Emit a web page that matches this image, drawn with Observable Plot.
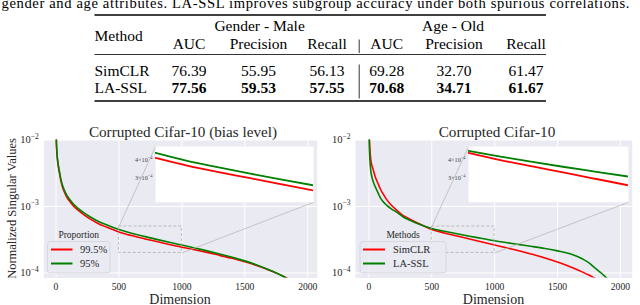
<!DOCTYPE html>
<html><head><meta charset="utf-8">
<script src="https://cdn.jsdelivr.net/npm/d3@7"></script>
<script src="https://cdn.jsdelivr.net/npm/@observablehq/plot@0.6"></script>
<style>
html,body{margin:0;padding:0;background:#fff;}
#root{position:relative;width:640px;height:305px;overflow:hidden;}
#root > svg{position:absolute;}
</style></head><body><div id="root"></div>
<script>
// ---------------- data ----------------
const captionText = "gender and age attributes. LA-SSL improves subgroup accuracy under both spurious correlations.";
const tableMethods = ["SimCLR", "LA-SSL"];
const groupHeaders = ["Gender - Male", "Age - Old"];
const metricHeaders = ["AUC", "Precision", "Recall", "AUC", "Precision", "Recall"];
const genderAUC = ["76.39", "77.56"];
const genderPrecision = ["55.95", "59.53"];
const genderRecall = ["56.13", "57.55"];
const ageAUC = ["69.28", "70.68"];
const agePrecision = ["32.70", "34.71"];
const ageRecall = ["61.47", "61.67"];

const dims = [0, 3, 6, 10, 15, 22, 30, 40, 50, 60, 75, 90, 110, 140, 175, 220, 270, 330, 400, 500, 600, 700, 800, 900, 1000, 1100, 1200, 1300, 1400, 1500, 1600, 1700, 1750, 1800, 1850, 1900, 1950, 2000];
// left panel: bias level
const biasNames = ["99.5%", "95%"];
const bias995 = [2.2e-2, 9.4e-3, 6.9e-3, 5.4e-3, 4.45e-3, 3.65e-3, 3.0e-3, 2.38e-3, 2.0e-3, 1.77e-3, 1.52e-3, 1.34e-3, 1.19e-3, 1.01e-3, 8.8e-4, 7.55e-4, 6.5e-4, 5.6e-4, 4.9e-4, 4.14e-4, 3.65e-4, 3.28e-4, 2.97e-4, 2.68e-4, 2.43e-4, 2.24e-4, 2.04e-4, 1.84e-4, 1.66e-4, 1.47e-4, 1.28e-4, 1.09e-4, 9.95e-5, 9.0e-5, 8.0e-5, 7.0e-5, 6.2e-5, 5.5e-5];
const bias95 = [2.2e-2, 9.6e-3, 7.1e-3, 5.6e-3, 4.6e-3, 3.8e-3, 3.15e-3, 2.5e-3, 2.12e-3, 1.88e-3, 1.62e-3, 1.43e-3, 1.27e-3, 1.08e-3, 9.4e-4, 8.1e-4, 7.0e-4, 6.05e-4, 5.3e-4, 4.5e-4, 3.95e-4, 3.55e-4, 3.2e-4, 2.9e-4, 2.64e-4, 2.38e-4, 2.15e-4, 1.93e-4, 1.72e-4, 1.52e-4, 1.31e-4, 1.1e-4, 1.0e-4, 9.0e-5, 8.0e-5, 7.0e-5, 6.2e-5, 5.5e-5];
// right panel: methods
const methodNames = ["SimCLR", "LA-SSL"];
const simclr = [2.5e-2, 1.2e-2, 8.5e-3, 6.3e-3, 5.0e-3, 4.2e-3, 3.8e-3, 3.25e-3, 2.8e-3, 2.5e-3, 2.15e-3, 1.85e-3, 1.57e-3, 1.28e-3, 1.06e-3, 8.8e-4, 7.35e-4, 6.4e-4, 5.5e-4, 4.51e-4, 4.0e-4, 3.6e-4, 3.25e-4, 2.93e-4, 2.64e-4, 2.38e-4, 2.14e-4, 1.91e-4, 1.68e-4, 1.46e-4, 1.24e-4, 1.03e-4, 9.3e-5, 8.3e-5, 7.4e-5, 6.5e-5, 5.7e-5, 5.0e-5];
const lassl = [1.6e-2, 8.0e-3, 5.8e-3, 4.3e-3, 3.4e-3, 2.85e-3, 2.5e-3, 2.2e-3, 1.98e-3, 1.8e-3, 1.56e-3, 1.36e-3, 1.2e-3, 1.05e-3, 9.3e-4, 8.2e-4, 7.0e-4, 6.15e-4, 5.4e-4, 4.66e-4, 4.24e-4, 3.88e-4, 3.57e-4, 3.3e-4, 3.05e-4, 2.85e-4, 2.67e-4, 2.5e-4, 2.33e-4, 2.15e-4, 1.95e-4, 1.62e-4, 1.42e-4, 1.18e-4, 9.9e-5, 8.1e-5, 6.8e-5, 5.3e-5];

const xTicks = [0, 500, 1000, 1500, 2000];
const yTicks = [1e-4, 1e-3, 1e-2];
const yDomain = [8.4e-5, 1e-2];
const zoomX = [500, 1000];
const zoomY = [2e-4, 5e-4];
const insetTicks = [3e-4, 4e-4];
const lineColors = ["#ff0000", "#008000"];

// ---------------- layout / style ----------------
const FONT = '"Liberation Serif","Times New Roman",Times,serif';
const BG = "#EAEAF2";
const TXT = "#262626";
const root = document.getElementById("root");
const insetFrac = {x0: 0.409, x1: 0.987, y0: 0.549, y1: 0.953};

const fmtX = d => String(d);
const fmtPow = d => "10^\u2212" + (-Math.round(Math.log10(d)));
const fmtInset = d => Math.round(d / 1e-4) + "\u00d710^\u22124";

function supify(svg) {
  svg.querySelectorAll("text").forEach(t => {
    const s = t.textContent;
    if (!s.includes("^")) return;
    const [base, exp] = s.split("^");
    while (t.firstChild) t.removeChild(t.firstChild);
    t.appendChild(document.createTextNode(base));
    const sp = document.createElementNS("http://www.w3.org/2000/svg", "tspan");
    sp.setAttribute("dy", "-0.6em");
    sp.setAttribute("font-size", "0.72em");
    sp.textContent = exp;
    t.appendChild(sp);
  });
}

function buildPanel(cfg) {
  const {left, top, width, height, mL, mR, mT, mB, xDomain, names, series} = cfg;
  const rows = [];
  names.forEach((n, k) => dims.forEach((d, i) => rows.push({dim: d, v: series[k][i], name: n})));
  const fx0 = mL, fx1 = width - mR, fy0 = mT, fy1 = height - mB;
  const xs = d3.scaleLinear().domain(xDomain).range([fx0, fx1]);
  const ys = d3.scaleLog().domain(yDomain).range([fy1, fy0]);
  const bx0 = fx0 + insetFrac.x0 * (fx1 - fx0), bx1 = fx0 + insetFrac.x1 * (fx1 - fx0);
  const by0 = fy1 - insetFrac.y1 * (fy1 - fy0), by1 = fy1 - insetFrac.y0 * (fy1 - fy0);
  const links = [
    {x1: zoomX[0], y1: zoomY[1], x2: xs.invert(bx0), y2: ys.invert(by0)},
    {x1: zoomX[1], y1: zoomY[0], x2: xs.invert(bx1), y2: ys.invert(by1)}
  ];
  const zoomBox = [{x1: zoomX[0], x2: zoomX[1], y1: zoomY[0], y2: zoomY[1]}];
  const svg = Plot.plot({
    width, height, marginLeft: mL, marginRight: mR, marginTop: mT, marginBottom: mB,
    x: {domain: xDomain},
    y: {type: "log", domain: yDomain},
    color: {domain: names, range: lineColors},
    style: {fontFamily: FONT, fontSize: "9.6px", color: TXT, background: "transparent", overflow: "visible"},
    marks: [
      Plot.frame({fill: BG, stroke: "none"}),
      Plot.gridX({ticks: xTicks, stroke: "#fff", strokeOpacity: 1, strokeWidth: 1}),
      Plot.gridY({ticks: yTicks, stroke: "#fff", strokeOpacity: 1, strokeWidth: 1}),
      Plot.axisX({ticks: xTicks, tickSize: 0, tickPadding: 5, fontSize: 9.6, tickFormat: fmtX, label: null}),
      Plot.axisY({ticks: yTicks, tickSize: 0, tickPadding: 5, fontSize: 10.5, tickFormat: fmtPow, label: null}),
      Plot.line(rows, {x: "dim", y: "v", stroke: "name", strokeWidth: 1.6, curve: "monotone-x", clip: true}),
      Plot.rect(zoomBox, {x1: "x1", x2: "x2", y1: "y1", y2: "y2", fill: "none", stroke: "#adadad", strokeWidth: 0.8, strokeDasharray: "3,2"}),
      Plot.link(links, {x1: "x1", y1: "y1", x2: "x2", y2: "y2", stroke: "#b9b9b9", strokeWidth: 0.8})
    ]
  });
  svg.style.left = left + "px";
  svg.style.top = top + "px";
  supify(svg);
  root.appendChild(svg);

  const iML = 30;
  const bw = bx1 - bx0, bh = by1 - by0;
  const inRows = rows.filter(r => r.dim >= zoomX[0] && r.dim <= zoomX[1]);
  const inset = Plot.plot({
    width: bw + iML, height: bh, marginLeft: iML, marginRight: 0, marginTop: 0, marginBottom: 0,
    x: {domain: zoomX, axis: null},
    y: {type: "log", domain: zoomY},
    color: {domain: names, range: lineColors},
    style: {fontFamily: FONT, fontSize: "6px", color: "#444", background: "transparent", overflow: "visible"},
    marks: [
      Plot.frame({fill: "#fff", stroke: "none"}),
      Plot.axisY({ticks: insetTicks, tickSize: 0, tickPadding: 3, fontSize: 6.2, tickFormat: fmtInset, label: null}),
      Plot.line(inRows, {x: "dim", y: "v", stroke: "name", strokeWidth: 1.8, curve: "monotone-x", clip: true})
    ]
  });
  inset.style.left = (left + bx0 - iML) + "px";
  inset.style.top = (top + by0) + "px";
  supify(inset);
  root.appendChild(inset);
}

buildPanel({left: 0, top: 118, width: 320, height: 187, mL: 43.3, mR: 3.3, mT: 21.5, mB: 27.5,
  xDomain: [-97, 2075], names: biasNames, series: [bias995, bias95]});
buildPanel({left: 320, top: 118, width: 320, height: 187, mL: 35, mR: 8.3, mT: 21.5, mB: 27.5,
  xDomain: [-107, 2094], names: methodNames, series: [simclr, lassl]});

// ---------------- text layer: caption, table, titles, labels, legends ----------------
const ann = d3.select(root).append("svg")
  .attr("width", 640).attr("height", 305)
  .style("left", "0px").style("top", "0px").style("pointer-events", "none")
  .attr("font-family", FONT);

ann.append("text").attr("x", 1.5).attr("y", 7.5).attr("font-size", 14.6)
  .attr("textLength", 628).attr("fill", "#000").text(captionText);

// table
const tX0 = 94.5, tX1 = 546;
const rule = (y, w) => ann.append("line").attr("x1", tX0).attr("x2", tX1).attr("y1", y).attr("y2", y)
  .attr("stroke", "#000").attr("stroke-width", w);
rule(15, 1.5); rule(54.5, 0.8); rule(101, 1.5);
const colX = [189, 258.5, 327, 386.7, 454, 526];
const groupX = [259.6, 453];
const tfs = 15.5;
ann.append("text").attr("x", tX0).attr("y", 41).attr("font-size", tfs).text("Method");
groupHeaders.forEach((g, i) => ann.append("text").attr("x", groupX[i]).attr("y", 30.5)
  .attr("text-anchor", "middle").attr("font-size", tfs).text(g));
metricHeaders.forEach((m, i) => ann.append("text").attr("x", colX[i]).attr("y", 48.5)
  .attr("text-anchor", "middle").attr("font-size", tfs).text(m));
const cols = [genderAUC, genderPrecision, genderRecall, ageAUC, agePrecision, ageRecall];
const rowY = [76, 93];
tableMethods.forEach((m, r) => {
  ann.append("text").attr("x", tX0).attr("y", rowY[r]).attr("font-size", tfs).text(m);
  cols.forEach((c, i) => ann.append("text").attr("x", colX[i]).attr("y", rowY[r])
    .attr("text-anchor", "middle").attr("font-size", tfs)
    .attr("font-weight", r === 1 ? "bold" : "normal").text(c[r]));
});
[[39.5, 53], [64.5, 98.5]].forEach(([a, b]) => ann.append("line").attr("x1", 359.2).attr("x2", 359.2)
  .attr("y1", a).attr("y2", b).attr("stroke", "#000").attr("stroke-width", 0.8));

// panel titles and axis labels
const titles = [["Corrupted Cifar-10 (bias level)", 183], ["Corrupted Cifar-10", 497]];
titles.forEach(([t, x]) => ann.append("text").attr("x", x).attr("y", 136.5).attr("text-anchor", "middle")
  .attr("font-size", 15.2).attr("fill", TXT).text(t));
[180, 493.5].forEach(x => ann.append("text").attr("x", x).attr("y", 303.5).attr("text-anchor", "middle")
  .attr("font-size", 14).attr("fill", TXT).text("Dimension"));
ann.append("text").attr("transform", "translate(15.5,208.5) rotate(-90)").attr("text-anchor", "middle")
  .attr("font-size", 12.5).attr("fill", TXT).text("Normalized Singular Values");

// legends
function legend(cfg) {
  const {x, y, w, h, title, names, lx0, lx1, tx} = cfg;
  ann.append("rect").attr("x", x).attr("y", y).attr("width", w).attr("height", h).attr("rx", 3)
    .attr("fill", BG).attr("fill-opacity", 0.8).attr("stroke", "#d2d2da").attr("stroke-width", 0.8);
  ann.append("text").attr("x", x + w / 2).attr("y", y - 3.5).attr("text-anchor", "middle")
    .attr("font-size", 9.5).attr("fill", TXT).text(title);
  const ly = [y + 8, y + 22];
  names.forEach((n, i) => {
    ann.append("line").attr("x1", lx0).attr("x2", lx1).attr("y1", ly[i]).attr("y2", ly[i])
      .attr("stroke", lineColors[i]).attr("stroke-width", 2);
    ann.append("text").attr("x", tx).attr("y", ly[i] + 3.6).attr("font-size", 10.5).attr("fill", TXT).text(n);
  });
}
legend({x: 47.5, y: 241.5, w: 62.5, h: 31.5, title: "Proportion", names: biasNames, lx0: 51, lx1: 72.5, tx: 80});
legend({x: 360, y: 241.5, w: 86, h: 31.5, title: "Methods", names: methodNames, lx0: 363, lx1: 385, tx: 393});
</script></body></html>
